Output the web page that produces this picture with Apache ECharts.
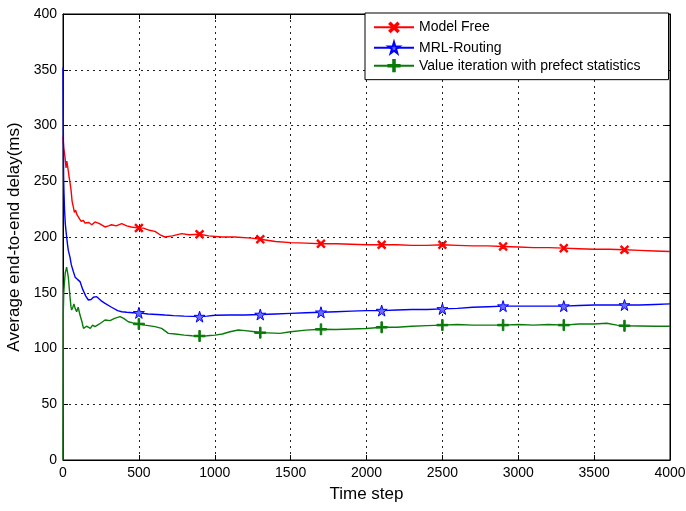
<!DOCTYPE html>
<html>
<head>
<meta charset="utf-8">
<script src="https://cdn.jsdelivr.net/npm/echarts@6/dist/echarts.min.js"></script>
<style>
html,body{margin:0;padding:0;background:#fff;}
#chart{width:686px;height:511px;}
</style>
</head>
<body>
<div id="chart"></div>
<script>
// ---- data (time step, average end-to-end delay in ms) ----
var seriesNames = ['Model Free', 'MRL-Routing', 'Value iteration with prefect statistics'];
var markerSteps = [500, 900, 1300, 1700, 2100, 2500, 2900, 3300, 3700];
var xTicks = [0, 500, 1000, 1500, 2000, 2500, 3000, 3500, 4000];
var yTicks = [0, 50, 100, 150, 200, 250, 300, 350, 400];

var modelFree = [[0,290],[5,280],[13,272],[20,262],[25,268],[31,263],[40,254],[47,248],[53,242],[60,232],[68,227],[75,222],[83,224],[92,220],[101,221],[110,216],[120,214],[134,215],[145,212.5],[170,213],[190,211],[211,213.5],[240,212],[277,209],[300,210],[320,211],[350,210],[387,212],[420,210],[450,209],[500,208],[530,208],[570,206],[606,205],[640,202],[672,200],[720,201],[782,203],[830,202],[900,202.5],[960,201],[1045,200],[1130,200],[1243,199],[1300,198],[1400,196],[1500,195],[1600,194.5],[1700,194],[1800,194],[1900,193.5],[2000,193],[2100,193],[2200,193],[2300,192.5],[2400,192.5],[2500,193],[2600,192.5],[2700,192],[2800,192],[2900,191.5],[3000,191],[3100,190.5],[3200,190.5],[3300,190],[3400,189.5],[3500,189],[3600,189],[3700,188.5],[3800,188],[3900,187.5],[4000,187]];

var mrlRouting = [[0,352],[2,300],[4,255],[6,242],[10,225],[15,212],[20,205],[24,200],[30,193],[35,188],[46,182],[55,175],[68,169],[80,164],[95,162],[112,160],[130,153],[150,147],[167,143.5],[185,144],[200,146],[222,146.5],[250,143],[277,140.5],[320,137],[360,134],[387,133],[420,132.5],[460,132],[500,132],[560,131],[620,130.5],[672,130],[730,129.5],[800,129],[900,128.6],[950,129],[1002,129.8],[1100,130],[1200,130],[1300,130.5],[1400,131],[1500,131.5],[1600,132],[1700,132.5],[1800,133],[1900,133.5],[2000,134],[2100,134],[2200,134.5],[2300,135],[2400,135],[2500,135.5],[2600,136],[2700,137],[2800,137.5],[2900,138],[3000,138],[3100,138],[3200,138],[3300,138],[3400,138.5],[3500,139],[3600,139],[3700,139],[3800,139],[3900,139.5],[4000,140]];

var valueIteration = [[0,0],[1,60],[2,132],[5,150],[10,160],[15,168],[24,173],[30,168],[35,164],[45,148],[52,138],[57,134.5],[65,137],[72,140],[80,136],[90,133],[100,137],[112,130],[125,124],[135,118],[145,116.6],[155,120],[167,121],[180,118],[195,121],[211,119.6],[240,122],[277,125.6],[310,125],[340,127],[376,128.6],[400,127],[430,124],[460,123],[500,122],[540,121],[606,119.6],[650,118],[694,113.6],[740,113],[800,112],[850,111.5],[900,111.2],[950,111.5],[1002,112],[1050,113],[1100,115],[1155,116.6],[1200,116],[1265,115],[1300,114.2],[1350,114],[1430,113.6],[1500,115],[1600,116.5],[1700,117.2],[1800,117],[1900,117.5],[2000,118],[2100,119],[2200,119],[2300,120],[2400,120.5],[2500,121],[2600,121.5],[2700,121],[2800,121],[2900,121],[3000,121.5],[3100,121],[3200,121.5],[3300,121],[3400,122],[3500,122],[3583,122.6],[3650,121],[3700,120.4],[3800,120.2],[3900,120],[4000,120]];

// ---- symbols ----
var plusPath = 'path://M4.3,0H5.7V4.3H10V5.7H5.7V10H4.3V5.7H0V4.3H4.3Z';
var starPath = 'path://M50,0L61,35H98L68,57L79,91L50,70L21,91L32,57L2,35H39Z';

function withMarkers(arr) {
  return arr.map(function (p) {
    if (markerSteps.indexOf(p[0]) >= 0) return { value: p };
    return { value: p, symbol: 'none' };
  });
}

var font = '"Liberation Sans", Arial, sans-serif';
var chart = echarts.init(document.getElementById('chart'), null, { renderer: 'canvas' });

function mkSeries(name, data, color, symbol, size, rotate, fill) {
  return {
    name: name,
    type: 'line',
    data: withMarkers(data),
    symbol: symbol,
    symbolSize: size,
    symbolRotate: rotate,
    showAllSymbol: true,
    animation: false,
    lineStyle: { color: color, width: 1.4 },
    itemStyle: { color: fill, borderColor: color, borderWidth: 1 },
    emphasis: { disabled: true }
  };
}

function plainLabel(v) { return String(v); }

chart.setOption({
  backgroundColor: '#fff',
  animation: false,
  grid: { left: 63, right: 16, top: 14, bottom: 51, show: true, borderColor: '#000', borderWidth: 1, backgroundColor: '#fff', containLabel: false, outerBoundsMode: 'none' },
  legend: {
    orient: 'vertical',
    left: 365,
    top: 13,
    padding: [5, 28, 7, 8],
    itemWidth: 40,
    itemHeight: 14,
    itemGap: 4,
    backgroundColor: '#fff',
    borderColor: '#000',
    borderWidth: 1,
    borderRadius: 0,
    textStyle: { fontFamily: font, fontSize: 14, color: '#000' },
    data: seriesNames
  },
  xAxis: [{
    type: 'value', min: 0, max: 4000, interval: 500,
    name: 'Time step', nameLocation: 'middle', nameGap: 26,
    nameTextStyle: { fontFamily: font, fontSize: 17, color: '#000' },
    axisLabel: { fontFamily: font, fontSize: 14, color: '#000', margin: 6, formatter: plainLabel },
    axisLine: { show: true, onZero: false, lineStyle: { color: '#000', width: 1 } },
    axisTick: { show: true, inside: true, length: 5, lineStyle: { color: '#000' } },
    splitLine: { show: true, lineStyle: { color: '#222', width: 1, type: [2, 4] } }
  }, {
    type: 'value', min: 0, max: 4000, interval: 500, position: 'top',
    axisLabel: { show: false },
    axisLine: { show: true, onZero: false, lineStyle: { color: '#000', width: 1 } },
    axisTick: { show: true, inside: true, length: 5, lineStyle: { color: '#000' } },
    splitLine: { show: false }
  }],
  yAxis: [{
    type: 'value', min: 0, max: 400, interval: 50,
    name: 'Average end-to-end delay(ms)', nameLocation: 'middle', nameGap: 40,
    nameTextStyle: { fontFamily: font, fontSize: 17, color: '#000' },
    axisLabel: { fontFamily: font, fontSize: 14, color: '#000', margin: 6, formatter: plainLabel },
    axisLine: { show: true, onZero: false, lineStyle: { color: '#000', width: 1 } },
    axisTick: { show: true, inside: true, length: 5, lineStyle: { color: '#000' } },
    splitLine: { show: true, lineStyle: { color: '#222', width: 1, type: [2, 4] } }
  }, {
    type: 'value', min: 0, max: 400, interval: 50, position: 'right',
    axisLabel: { show: false },
    axisLine: { show: true, onZero: false, lineStyle: { color: '#000', width: 1 } },
    axisTick: { show: true, inside: true, length: 5, lineStyle: { color: '#000' } },
    splitLine: { show: false }
  }],
  series: [
    mkSeries(seriesNames[0], modelFree, '#ff0000', plusPath, 10, 45, '#ff0000'),
    mkSeries(seriesNames[1], mrlRouting, '#0000ff', starPath, 11, 0, '#6a6aff'),
    mkSeries(seriesNames[2], valueIteration, '#0a7a0a', plusPath, 11, 0, '#0a7a0a')
  ]
});
</script>
</body>
</html>
